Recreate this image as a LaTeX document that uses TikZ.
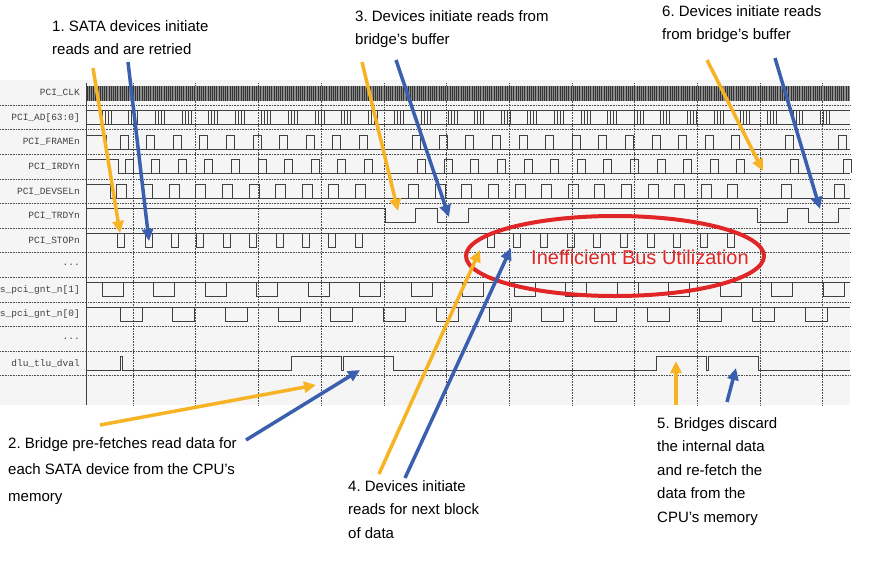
\documentclass[tikz,border=0pt]{standalone}
\usepackage{fontspec}
\setmainfont{Liberation Sans}
\newfontfamily\sigfont{Liberation Mono}
\usetikzlibrary{arrows.meta, shapes.geometric}
\definecolor{amber}{HTML}{F6B323}
\definecolor{steel}{HTML}{3B5FAF}
\definecolor{alarm}{HTML}{E02626}
\tikzstyle{note} = [align=left, anchor=north west, font=\fontsize{15}{23.5}\selectfont, inner sep=0pt]
\tikzstyle{sig} = [anchor=east, font=\sigfont\fontsize{9.5}{10}\selectfont, text=black!75, inner sep=0pt]
\tikzstyle{wave} = [draw=black!75, line width=0.8pt]
\tikzstyle{grid} = [draw=black!70, densely dotted, line width=0.6pt]
\tikzstyle{yarrow} = [draw=amber, line width=3.5pt, -{Triangle[length=12pt,width=11pt]}]
\tikzstyle{barrow} = [draw=steel, line width=3.5pt, -{Triangle[length=12pt,width=11pt]}]
\newcommand{\rowy}[1]{93+24.6*#1}
\newcommand{\sigdots}{.{}.{}.}
\frenchspacing
\begin{document}
\begin{tikzpicture}[x=1pt, y=-1pt]
		\useasboundingbox (0,0) rectangle (871,565);
		\fill[black!4] (0,80) rectangle (850,405);
		
		% Grid and signal names
		\foreach \j in {0,...,11}
		  \draw[grid] (0,105+24.6*\j) -- (850,105+24.6*\j);
		\foreach \k in {0,...,11}
		  \draw[grid] (133+62.7*\k,83) -- (133+62.7*\k,405);
		\draw[black!75, line width=0.8pt] (86,83) -- (86,405);
		\foreach \n/\t in {0/PCI\_CLK, 1/PCI\_AD[63:0], 2/PCI\_FRAMEn, 3/PCI\_IRDYn,
		  4/PCI\_DEVSELn, 5/PCI\_TRDYn, 6/PCI\_STOPn, 7/\sigdots, 8/s\_pci\_gnt\_n[1],
		  9/s\_pci\_gnt\_n[0], 10/\sigdots, 11/dlu\_tlu\_dval}
		  \node[sig] (s\n) at (80,{\rowy{\n}}) {\t};
		
		% PCI_CLK and PCI_AD
		\fill[black!45] (87,86) rectangle (850,101);
		\foreach \x in {87,89.2,...,849}
		  \draw[black!80, line width=0.7pt] (\x,86) -- (\x,101);
		\draw[wave] (86,110) -- (850,110) (86,124) -- (850,124);
		\foreach \k in {0,...,27}
		  \foreach \d in {0,3,6,9}
		    \draw[wave, line width=0.6pt] (102+26.6*\k+\d,110) -- (102+26.6*\k+\d,124);
		
		% PCI_FRAMEn, PCI_IRDYn, PCI_DEVSELn
		\draw[wave] (86,135) -- (106,135) -- (106,149) -- (850,149);
		\foreach \k in {0,...,9,11,12,...,23,25,27}
		  \draw[wave] (120+26.6*\k,149) -- ++(0,-14) -- ++(8,0) -- ++(0,14);
		\draw[wave] (86,159) -- (118,159) -- (118,173) -- (850,173);
		\foreach \k in {0,...,9,11,12,...,23,25,27}
		  \draw[wave] (125+26.6*\k,173) -- ++(0,-14) -- ++(8,0) -- ++(0,14);
		\draw[wave] (86,184) -- (110,184) -- (110,198) -- (850,198);
		\foreach \k in {0,...,9,11,12,...,23,25,27}
		  \draw[wave] (116+26.6*\k,198) -- ++(0,-14) -- ++(10,0) -- ++(0,14);
		
		% PCI_TRDYn
		\draw[wave] (86,208) -- (385,208) -- (385,222) -- (415,222) -- (415,208)
		  -- (437,208) -- (437,222) -- (468,222) -- (468,208) -- (757,208)
		  -- (757,222) -- (787,222) -- (787,208) -- (808,208) -- (808,222)
		  -- (838,222) -- (838,208) -- (850,208);
		
		% PCI_STOPn
		\draw[wave] (86,233) -- (850,233);
		\foreach \x in {117,145,171,196,223,249,276,302,328,355,487,513,540,567,593,620,647,673,700,727}
		  \draw[wave] (\x,233) -- ++(0,14) -- ++(7,0) -- ++(0,-14);
		
		% s_pci_gnt_n[1], s_pci_gnt_n[0]
		\draw[wave] (86,282) -- (850,282);
		\foreach \k in {0,...,14}
		  \draw[wave] (102+51.5*\k,282) -- ++(0,14) -- ++(21,0) -- ++(0,-14);
		\draw[wave] (86,307) -- (850,307);
		\foreach \k in {0,...,13}
		  \draw[wave] (120+52.7*\k,307) -- ++(0,14) -- ++(22,0) -- ++(0,-14);
		
		% dlu_tlu_dval
		\draw[wave] (86,370) -- (120,370) -- (120,356) -- (122,356) -- (122,370)
		  -- (291,370) -- (291,356) -- (341,356) -- (341,370) -- (343,370)
		  -- (343,356) -- (393,356) -- (393,370) -- (656,370) -- (656,356)
		  -- (706,356) -- (706,370) -- (708,370) -- (708,356) -- (758,356)
		  -- (758,370) -- (850,370);
		
		% Highlight
		\node[draw=alarm, line width=4pt, ellipse, minimum width=298pt, minimum height=80pt] (bus) at (615,256) {};
		\node[text=alarm, font=\fontsize{20}{22}\selectfont] (busl) at (640,257) {Inefficient Bus Utilization};
		
		% Notes
		\node[note] (n1) at (52,20) {1. SATA devices initiate\\reads and are retried};
		\node[note] (n3) at (355,10) {3. Devices initiate reads from\\bridge's buffer};
		\node[note] (n6) at (662,5) {6. Devices initiate reads\\from bridge's buffer};
		\node[note, font=\fontsize{15}{26.5}\selectfont] (n2) at (8,437) {2. Bridge pre-fetches read data for\\each SATA device from the CPU's\\memory};
		\node[note] (n4) at (348,480) {4. Devices initiate\\reads for next block\\of data};
		\node[note] (n5) at (657,417) {5. Bridges discard\\the internal data\\and re-fetch the\\data from the\\CPU's memory};
		
		% Arrow ends
		\coordinate (a1y) at (93,68);   \coordinate (b1y) at (120,233);
		\coordinate (a1b) at (128,62);  \coordinate (b1b) at (149,241);
		\coordinate (a3y) at (362,62);  \coordinate (b3y) at (398,211);
		\coordinate (a3b) at (396,60);  \coordinate (b3b) at (449,217);
		\coordinate (a6y) at (707,60);  \coordinate (b6y) at (763,171);
		\coordinate (a6b) at (775,58);  \coordinate (b6b) at (820,209);
		\coordinate (a2y) at (100,425); \coordinate (b2y) at (316,385);
		\coordinate (a2b) at (246,440); \coordinate (b2b) at (360,370);
		\coordinate (a4y) at (379,474); \coordinate (b4y) at (480,250);
		\coordinate (a4b) at (405,478); \coordinate (b4b) at (511,248);
		\coordinate (a5y) at (676,405); \coordinate (b5y) at (676,361);
		\coordinate (a5b) at (727,402); \coordinate (b5b) at (736,368);
		
		% Draw arrows
		\foreach \a in {1,3,6,2,4,5}{
		  \path[yarrow] (a\a y) -- (b\a y);
		  \path[barrow] (a\a b) -- (b\a b);}
		
	\end{tikzpicture}
\end{document}
